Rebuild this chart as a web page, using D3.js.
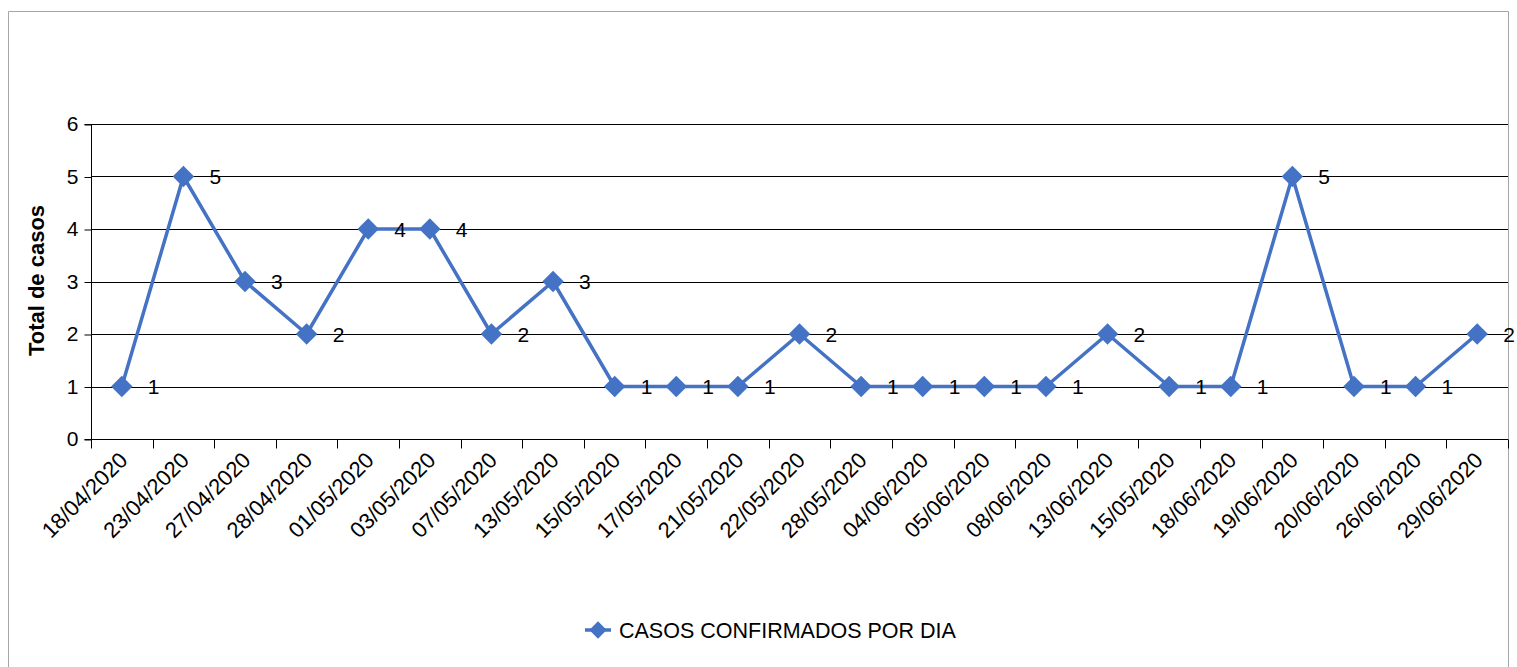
<!DOCTYPE html>
<html>
<head>
<meta charset="utf-8">
<script src="https://cdn.jsdelivr.net/npm/d3@7"></script>
<style>
  body { margin: 0; background: #fff; }
  svg text { font-family: "Liberation Sans", Arial, sans-serif; fill: #000; }
</style>
</head>
<body>
<div id="chart"></div>
<script>
const dates = ['18/04/2020', '23/04/2020', '27/04/2020', '28/04/2020', '01/05/2020', '03/05/2020',
  '07/05/2020', '13/05/2020', '15/05/2020', '17/05/2020', '21/05/2020', '22/05/2020', '28/05/2020',
  '04/06/2020', '05/06/2020', '08/06/2020', '13/06/2020', '15/05/2020', '18/06/2020', '19/06/2020',
  '20/06/2020', '26/06/2020', '29/06/2020'];
const casos = [1, 5, 3, 2, 4, 4, 2, 3, 1, 1, 1, 2, 1, 1, 1, 1, 2, 1, 1, 5, 1, 1, 2];
const yTicks = [0, 1, 2, 3, 4, 5, 6];
const seriesName = 'CASOS CONFIRMADOS POR DIA';
const yTitle = 'Total de casos';

const W = 1517, H = 667;
const margin = { top: 124, right: 9, bottom: 228, left: 91 };
const width = W - margin.left - margin.right;
const height = H - margin.top - margin.bottom;
const blue = '#4472C4';

const root = d3.select('#chart').append('svg')
  .attr('width', W)
  .attr('height', H);

// outer chart frame
root.append('path')
  .attr('d', 'M8.5,' + H + 'V11.5H1508.5V' + H)
  .attr('fill', 'none')
  .attr('stroke', '#a6a6a6')
  .attr('stroke-width', 1);

const svg = root.append('g')
  .attr('transform', 'translate(' + margin.left + ',' + margin.top + ')');

const x = d3.scaleBand().domain(d3.range(dates.length)).range([0, width]);
const y = d3.scaleLinear().domain([0, 6]).range([height, 0]);

// gridlines
svg.append('g')
  .selectAll('line')
  .data(yTicks.slice(1))
  .enter().append('line')
  .attr('x1', 0)
  .attr('x2', width)
  .attr('y1', d => Math.round(y(d)) + 0.5)
  .attr('y2', d => Math.round(y(d)) + 0.5)
  .attr('stroke', '#000');

// y axis
const yAxis = svg.append('g')
  .attr('transform', 'translate(0.5,0)')
  .call(d3.axisLeft(y).tickValues(yTicks).tickSize(7).tickPadding(6).tickFormat(d3.format('d')));
yAxis.select('.domain').attr('d', 'M-7,' + (height + 0.5) + 'H0V0.5H-7').attr('stroke', '#000');
yAxis.selectAll('.tick line').attr('stroke', '#000');
yAxis.selectAll('.tick line').attr('transform', 'translate(0,0.5)');
yAxis.selectAll('text').attr('font-size', 21).attr('font-family', 'Liberation Sans');

// x axis with ticks at band boundaries
const bounds = d3.range(dates.length + 1).map(i => i * x.step());
const xAxis = svg.append('g')
  .attr('transform', 'translate(0,' + (height + 0.5) + ')');
xAxis.append('line')
  .attr('x1', 0).attr('x2', width)
  .attr('stroke', '#000');
xAxis.selectAll('.xt')
  .data(bounds)
  .enter().append('line')
  .attr('class', 'xt')
  .attr('x1', d => Math.round(d) + 0.5)
  .attr('x2', d => Math.round(d) + 0.5)
  .attr('y1', 0)
  .attr('y2', 9)
  .attr('stroke', '#000');
xAxis.selectAll('.xl')
  .data(dates)
  .enter().append('text')
  .attr('class', 'xl')
  .attr('transform', (d, i) => 'translate(' + (x(i) + x.bandwidth() / 2 + 7) + ',22) rotate(-45)')
  .attr('text-anchor', 'end')
  .attr('font-size', 22)
  .text(d => d);

// y title
svg.append('text')
  .attr('transform', 'translate(' + (-47) + ',' + (height / 2 - 1) + ') rotate(-90)')
  .attr('text-anchor', 'middle')
  .attr('font-size', 22)
  .attr('font-weight', 'bold')
  .text(yTitle);

// line
const line = d3.line()
  .x((d, i) => x(i) + x.bandwidth() / 2)
  .y(d => y(d));
svg.append('path')
  .datum(casos)
  .attr('d', line)
  .attr('fill', 'none')
  .attr('stroke', blue)
  .attr('stroke-width', 3.5)
  .attr('stroke-linejoin', 'round');

const diamond = d3.symbol().type(d3.symbolSquare).size(230);
svg.selectAll('.pt')
  .data(casos)
  .enter().append('path')
  .attr('class', 'pt')
  .attr('d', diamond)
  .attr('transform', (d, i) => 'translate(' + (x(i) + x.bandwidth() / 2) + ',' + y(d) + ') rotate(45)')
  .attr('fill', blue);

// data labels
svg.selectAll('.lbl')
  .data(casos)
  .enter().append('text')
  .attr('class', 'lbl')
  .attr('x', (d, i) => x(i) + x.bandwidth() / 2 + 26)
  .attr('y', d => y(d))
  .attr('dy', '0.36em')
  .attr('font-size', 21)
  .text(d => d);

// legend
const lg = root.append('g').attr('transform', 'translate(598,630)');
lg.append('line')
  .attr('x1', -13).attr('x2', 13)
  .attr('stroke', blue).attr('stroke-width', 3.5);
lg.append('path')
  .attr('d', d3.symbol().type(d3.symbolSquare).size(150))
  .attr('transform', 'rotate(45)')
  .attr('fill', blue);
lg.append('text')
  .attr('x', 21)
  .attr('dy', '0.36em')
  .attr('font-size', 21.5)
  .text(seriesName);
</script>
</body>
</html>
